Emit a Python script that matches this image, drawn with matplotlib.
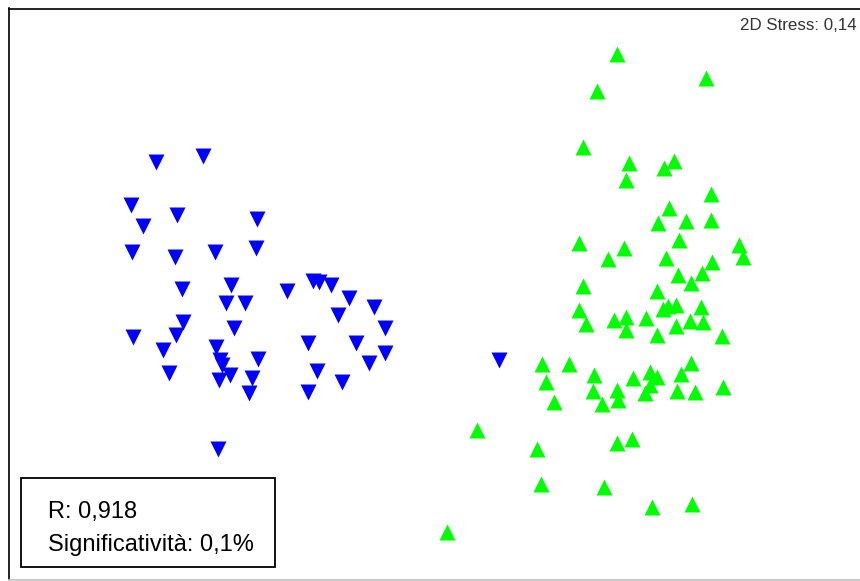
import matplotlib
matplotlib.use("Agg")
import matplotlib.pyplot as plt
from matplotlib.patches import Rectangle

# MDS ordination coordinates (arbitrary units)
group_a_x = [156, 203, 131, 177, 143, 257, 132, 175, 215, 256, 182, 231, 226, 245,
             287, 313, 319, 331, 349, 374, 338, 183, 234, 385, 133, 176, 163, 216,
             308, 356, 385, 220, 222, 258, 369, 169, 219, 230, 252, 317, 342, 249,
             308, 499, 218]
group_a_y = [162, 156, 205, 215, 226, 219, 252, 257, 252, 248, 289, 285, 303, 303,
             291, 281, 282, 285, 298, 307, 315, 322, 328, 328, 337, 335, 350, 347,
             343, 343, 353, 360, 365, 359, 363, 373, 380, 375, 378, 371, 382, 393,
             392, 360, 449]

group_b_x = [617, 706, 597, 583, 629, 626, 674, 664, 711, 669, 658, 686, 711,
             579, 624, 608, 679, 739, 743, 666, 712, 702, 678, 691, 583, 657,
             579, 586, 614, 626, 626, 646, 663, 668, 676, 701, 676, 690, 703,
             657, 722, 542, 569, 546, 554, 594, 593, 602, 617, 618, 633, 650,
             657, 650, 645, 681, 691, 677, 695, 723,
             477, 537, 617, 632, 541, 604, 652, 692, 447]
group_b_y = [54, 78, 91, 147, 163, 180, 161, 168, 194, 208, 223, 221, 220,
             243, 248, 259, 240, 245, 257, 258, 262, 273, 275, 283, 286, 291,
             310, 324, 320, 317, 330, 318, 309, 306, 305, 307, 326, 321, 322,
             335, 336, 364, 364, 382, 402, 375, 391, 404, 390, 400, 378, 372,
             377, 385, 393, 374, 363, 391, 392, 387,
             430, 449, 443, 439, 484, 487, 507, 504, 532]

stress_label = "2D Stress: 0,14"
stat_lines = ["R: 0,918", "Significatività: 0,1%"]

plt.rcParams['font.family'] = ['Liberation Sans', 'DejaVu Sans']

W, H = 860, 581
fig = plt.figure(figsize=(W / 100, H / 100), dpi=100)
left_px, right_px, top_px, bottom_px = 8.5, 862, 8.5, 579.5
ax = fig.add_axes([left_px / W, (H - bottom_px) / H,
                   (right_px - left_px) / W, (bottom_px - top_px) / H])
ax.set_xlim(left_px, right_px)
ax.set_ylim(bottom_px, top_px)
ax.set_xticks([])
ax.set_yticks([])
for side in ['left', 'top']:
    ax.spines[side].set_color('black')
    ax.spines[side].set_linewidth(1.2)
ax.spines['bottom'].set_color('#c0c0c0')
ax.spines['bottom'].set_linewidth(1.2)
ax.spines['right'].set_visible(False)

ax.scatter(group_a_x, group_a_y, marker='v', s=11.5 ** 2, c='#0000ff',
           linewidths=0, zorder=3)
ax.scatter(group_b_x, group_b_y, marker='^', s=11.5 ** 2, c='#00ff00',
           linewidths=0, zorder=3)

ax.text(857, 30, stress_label, ha='right', va='baseline', fontsize=12.2,
        color='#333333')

ax.add_patch(Rectangle((21, 478), 254, 89, fill=False, edgecolor='black',
                       linewidth=1.3, zorder=4))
ax.text(48, 518, stat_lines[0], ha='left', va='baseline', fontsize=17,
        color='black', zorder=5)
ax.text(48, 551, stat_lines[1], ha='left', va='baseline', fontsize=17,
        color='black', zorder=5)

fig.savefig('out.png', dpi=100)
